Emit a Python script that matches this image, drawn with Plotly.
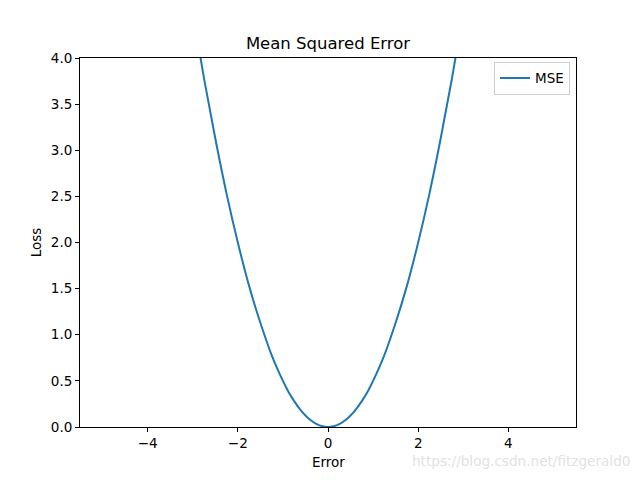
import plotly.graph_objects as go

# Values
error = [-5.0, -4.75, -4.5, -4.25, -4.0, -3.75, -3.5, -3.25, -3.0, -2.75, -2.5, -2.25,
         -2.0, -1.75, -1.5, -1.25, -1.0, -0.875, -0.75, -0.625, -0.5, -0.375, -0.25, -0.125, 0.0,
         0.125, 0.25, 0.375, 0.5, 0.625, 0.75, 0.875, 1.0, 1.25, 1.5, 1.75, 2.0, 2.25, 2.5, 2.75,
         3.0, 3.25, 3.5, 3.75, 4.0, 4.25, 4.5, 4.75, 5.0]
loss = [12.5, 11.28, 10.13, 9.03, 8.0, 7.03, 6.13, 5.28, 4.5, 3.78, 3.13, 2.53,
        2.0, 1.53, 1.13, 0.78, 0.5, 0.38, 0.28, 0.195, 0.125, 0.07, 0.031, 0.008, 0.0,
        0.008, 0.031, 0.07, 0.125, 0.195, 0.28, 0.38, 0.5, 0.78, 1.13, 1.53, 2.0, 2.53, 3.13, 3.78,
        4.5, 5.28, 6.13, 7.03, 8.0, 9.03, 10.13, 11.28, 12.5]
x_ticks = [-4, -2, 0, 2, 4]
y_ticks = [0.0, 0.5, 1.0, 1.5, 2.0, 2.5, 3.0, 3.5, 4.0]

FONT = "DejaVu Sans"

fig = go.Figure()
fig.add_trace(go.Scatter(x=error, y=loss, mode="lines", name="MSE",
                         line=dict(color="#1f77b4", width=2, shape="spline")))

axis_common = dict(showline=True, linecolor="black", linewidth=1, mirror=True,
                   ticks="outside", ticklen=4, tickcolor="black", tickwidth=1,
                   showgrid=False, zeroline=False,
                   tickfont=dict(family=FONT, size=13.5, color="black"))

fig.update_layout(
    width=640, height=480,
    margin=dict(l=80, r=64, t=58, b=53),
    paper_bgcolor="white", plot_bgcolor="white",
    font=dict(family=FONT, color="black"),
    title=dict(text="Mean Squared Error", x=0.5, xref="paper", xanchor="center",
               y=1.0, yref="paper", yanchor="bottom", pad=dict(b=9),
               font=dict(family=FONT, size=16.5, color="black")),
    xaxis=dict(range=[-5.5, 5.5], tickvals=x_ticks, **axis_common),
    yaxis=dict(range=[0, 4], tickvals=y_ticks, tickformat=".1f", **axis_common),
    legend=dict(x=0.988, y=0.99, xanchor="right", yanchor="top",
                bordercolor="#d0d0d0", borderwidth=1, bgcolor="rgba(255,255,255,0.8)",
                font=dict(family=FONT, size=13.5, color="black")),
    showlegend=True,
)

fig.add_annotation(text="Error", xref="paper", yref="paper", x=0.5, y=-0.095,
                   xanchor="center", yanchor="middle", showarrow=False,
                   font=dict(family=FONT, size=13.5, color="black"))
fig.add_annotation(text="Loss", xref="paper", yref="paper", x=-0.089, y=0.5,
                   xanchor="center", yanchor="middle", showarrow=False, textangle=-90,
                   font=dict(family=FONT, size=13.5, color="black"))
fig.add_annotation(text="https://blog.csdn.net/fitzgerald0", xref="paper", yref="paper",
                   x=1.113, y=-0.092, xanchor="right", yanchor="middle", showarrow=False,
                   font=dict(family=FONT, size=13.6, color="#e2e2e2"))

fig.write_html("out.html", config={"displayModeBar": False},
               post_script="document.body.style.margin='0';document.body.style.padding='0';")
